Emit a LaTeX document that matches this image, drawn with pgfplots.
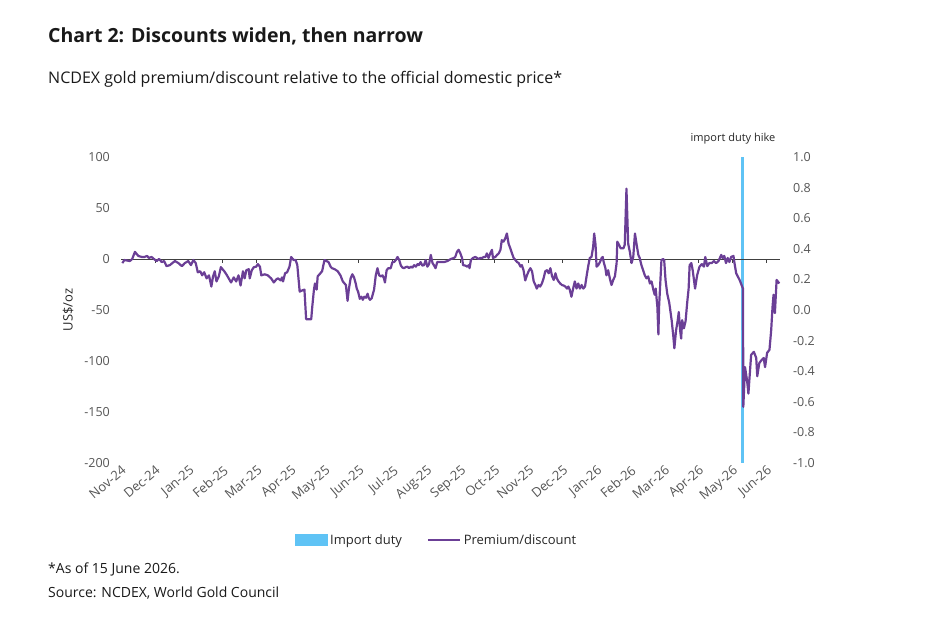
\documentclass[border=0pt]{standalone}
\usepackage{fontspec}
\setmainfont{Open Sans}
\usepackage{pgfplots}
\pgfplotsset{compat=1.18}
\definecolor{duty}{RGB}{95,195,245}
\definecolor{prem}{RGB}{107,63,150}
\definecolor{tickgray}{RGB}{85,85,85}
\definecolor{zeroline}{RGB}{64,64,64}

% NCDEX premium/discount, US$/oz; x in months since Nov-24
\pgfplotstableread{
x y
0.04 -4
0.10 -1
0.26 -2
0.33 0
0.41 7
0.51 3
0.61 2
0.69 2
0.77 3
0.82 1
0.90 2
0.97 0
1.05 -2
1.12 0
1.20 -3
1.27 -2
1.34 -7
1.44 -6
1.51 -4
1.59 -2
1.69 -4
1.79 -7
1.88 -4
1.98 -2
2.06 -6
2.13 -1
2.20 -4
2.26 -13
2.33 -12
2.39 -16
2.45 -13
2.52 -19
2.59 -16
2.66 -27
2.71 -17
2.76 -12
2.81 -22
2.88 -17
2.94 -8
3.04 -12
3.12 -16
3.24 -23
3.32 -18
3.39 -22
3.46 -16
3.52 -26
3.59 -12
3.64 -19
3.69 -11
3.76 -10
3.79 -19
3.85 -11
3.91 -8
3.98 -7.5
4.03 -5
4.09 -7.5
4.13 -16
4.23 -15
4.32 -16
4.42 -19
4.50 -23
4.57 -20
4.62 -19
4.70 -21
4.74 -18
4.77 -22
4.83 -14
4.89 -13
4.96 -7.5
5.01 2
5.08 -1
5.14 -1
5.19 -6
5.26 -32
5.32 -31
5.40 -30
5.45 -59
5.55 -59
5.60 -59
5.63 -47
5.68 -30
5.71 -24
5.76 -30
5.79 -17
5.87 -14
5.92 -12
5.99 -1
6.05 -2
6.11 -3
6.17 -7.5
6.21 -9
6.29 -10
6.38 -12
6.46 -16
6.53 -22
6.62 -25.5
6.67 -41
6.71 -29
6.76 -19
6.81 -15
6.86 -18
6.91 -24
6.94 -29
6.98 -32
7.03 -39
7.08 -37
7.12 -40
7.16 -37
7.21 -38
7.26 -34
7.29 -38
7.33 -40
7.38 -38.5
7.45 -30
7.50 -16
7.55 -9
7.60 -16
7.65 -17
7.70 -16
7.74 -19
7.77 -23
7.82 -11
7.87 -9
7.94 -9
7.99 -3
8.04 -3
8.09 -1
8.14 2
8.19 -1
8.24 -6.5
8.29 -8.5
8.33 -9
8.38 -8
8.43 -7.5
8.48 -9
8.53 -7.5
8.58 -8.5
8.63 -6
8.68 -7.5
8.73 -5
8.77 -6
8.82 -3
8.87 -6.5
8.92 -6
8.97 -1
9.02 -7.5
9.07 -5
9.12 4
9.17 -4
9.21 -6
9.26 -9
9.31 -3
9.41 -3
9.51 -3
9.61 -2
9.71 0
9.80 1
9.84 2
9.89 7
9.94 9
9.99 5.5
10.04 1
10.07 -6
10.14 -6.5
10.19 -7.5
10.24 -6
10.26 -9
10.30 -1
10.36 1
10.43 2
10.48 1
10.53 0
10.58 1
10.63 1
10.68 2
10.73 2
10.77 5.5
10.82 1
10.87 5.5
10.92 9
10.95 1
11.02 2
11.07 4
11.12 5.5
11.17 9
11.21 18.5
11.26 17
11.31 20
11.36 25
11.41 15
11.46 10.5
11.51 5.5
11.56 1
11.61 -1
11.66 -3
11.71 -4
11.76 -7.5
11.80 -6
11.85 -11
11.90 -21
11.95 -16
12.00 -12
12.05 -9
12.10 -12
12.15 -22
12.20 -25.5
12.24 -29
12.29 -25.5
12.34 -27
12.39 -24
12.44 -19
12.49 -12
12.54 -11
12.59 -14
12.64 -9
12.69 -17
12.74 -20.5
12.79 -14
12.83 -19
12.88 -22
12.93 -24
12.98 -25.5
13.03 -26
13.08 -27
13.13 -29
13.17 -27
13.21 -30
13.26 -37
13.31 -29
13.36 -22
13.41 -29
13.46 -24
13.51 -29
13.56 -25.5
13.61 -29
13.66 -27
13.71 -16
13.76 -6
13.80 1
13.85 2
13.90 12
13.93 25
13.97 14
14.00 -7.5
14.05 -6
14.10 -3
14.15 1
14.18 2
14.21 -3
14.26 -9
14.29 -16
14.34 -11
14.39 -19
14.44 -25.5
14.49 -20.5
14.54 -17
14.59 -4
14.61 17
14.66 14
14.71 10.5
14.79 10.5
14.83 14
14.88 69
14.93 15
14.98 7
15.03 -4
15.08 2
15.13 25
15.18 14
15.23 4
15.27 1
15.32 -6
15.37 -11
15.42 -16
15.47 -19
15.52 -17
15.57 -24
15.62 -22
15.67 -30
15.71 -35
15.74 -29
15.79 -47
15.82 -74
15.84 -47
15.88 -20.5
15.91 -1
15.96 0
15.99 -1
16.03 -20.5
16.08 -34
16.14 -43
16.21 -60
16.26 -76
16.29 -87.5
16.34 -70
16.39 -60
16.42 -52
16.46 -70
16.49 -78
16.52 -60
16.57 -68
16.62 -61
16.67 -42
16.71 -29
16.74 -6
16.79 -4
16.83 -11
16.90 -29
16.96 -16
17.03 -7.5
17.10 -5
17.16 -7.5
17.20 2
17.26 -7
17.32 -4
17.39 -4
17.45 -2
17.52 -4
17.59 -2
17.67 4
17.71 1
17.76 3
17.81 -4
17.86 1
17.91 -3
17.96 2
18.03 3
18.06 -4
18.11 -14
18.21 -20.5
18.31 -29
18.32 -145
18.37 -106
18.43 -119
18.47 -132
18.55 -94
18.63 -91
18.70 -97
18.73 -115
18.79 -102
18.86 -99
18.92 -97
18.96 -106
19.02 -92
19.09 -89
19.14 -70
19.18 -47
19.21 -35
19.25 -53
19.30 -20.5
19.38 -24
}\premium

\begin{document}
\begin{tikzpicture}[x=1pt,y=1pt]
\path (0,0) rectangle (935,-617);

% titles
\node[anchor=base west, inner sep=0, font=\bfseries\fontsize{19.5}{23}\selectfont, text=black!90] at (48,-43) {Chart 2: Discounts widen, then narrow};
\node[anchor=base west, inner sep=0, font=\fontsize{16}{19}\selectfont, text=black!90] at (48,-84) {NCDEX gold premium/discount relative to the official domestic price*};

% secondary axis: import duty marker
\begin{axis}[
  at={(121pt,-463pt)}, anchor=south west,
  scale only axis, width=659pt, height=306pt,
  xmin=0, xmax=19.4, ymin=-1, ymax=1,
  axis line style={draw=none}, tick style={draw=none},
  xtick=\empty,
  yticklabel pos=right,
  ytick={-1,-0.8,...,1.01},
  /pgf/number format/.cd, fixed, fixed zerofill, precision=1, assume math mode=true,
  /pgfplots/.cd,
  yticklabel style={font=\fontsize{12.5}{14}\selectfont, text=tickgray, anchor=west, inner sep=0, xshift=13pt},
]
\addplot[ycomb, draw=duty, line width=3pt, no marks] coordinates {(18.31,1) (18.31,-1)};
\end{axis}

% primary axis: premium/discount
\begin{axis}[
  at={(121pt,-463pt)}, anchor=south west,
  scale only axis, width=659pt, height=306pt,
  xmin=0, xmax=19.4, ymin=-200, ymax=100,
  axis line style={draw=none}, tick style={draw=none},
  xtick={0,...,19},
  xticklabels={Nov-24,Dec-24,Jan-25,Feb-25,Mar-25,Apr-25,May-25,Jun-25,Jul-25,Aug-25,Sep-25,Oct-25,Nov-25,Dec-25,Jan-26,Feb-26,Mar-26,Apr-26,May-26,Jun-26},
  xticklabel style={font=\fontsize{13}{15}\selectfont, text=tickgray, rotate=40, anchor=north east, inner sep=1pt},
  ytick={-200,-150,...,100},
  /pgf/number format/assume math mode=true,
  yticklabel style={font=\fontsize{12.5}{14}\selectfont, text=tickgray, anchor=east, inner sep=0, xshift=-11pt},
  legend style={at={(0.4795,-0.2516)}, anchor=center, draw=none, fill=none,
    font=\fontsize{13}{15}\selectfont, text=black!85, legend columns=2,
    /tikz/every even column/.append style={column sep=22pt},
    nodes={inner xsep=3pt}},
  legend cell align=left,
]
\addlegendimage{legend image code/.code={\fill[duty] (0pt,-5.5pt) rectangle (32pt,5.5pt);}}
\addlegendentry{Import duty}
% zero line with month ticks
\addplot[draw=zeroline, line width=0.9pt, forget plot] coordinates {(0,0) (19.4,0)};
\addplot[ycomb, draw=zeroline, line width=0.9pt, no marks, forget plot] coordinates {
(1,-4) (2,-4) (3,-4) (4,-4) (5,-4) (6,-4) (7,-4) (8,-4) (9,-4) (10,-4)
(11,-4) (12,-4) (13,-4) (14,-4) (15,-4) (16,-4) (17,-4) (18,-4) (19,-4)};
\addplot[draw=prem, line width=2.2pt, no marks, line join=round,
  legend image code/.code={\draw[prem, line width=1.8pt] (0pt,0pt) -- (32pt,0pt);}]
  table[x=x, y=y] {\premium};
\addlegendentry{Premium/discount}
\end{axis}

% annotations and notes
\node[anchor=center, inner sep=0, font=\fontsize{11}{13}\selectfont, text=black!85] at (733,-139) {import duty hike};
\node[rotate=90, anchor=center, inner sep=0, font=\fontsize{13}{15}\selectfont, text=black!85] at (68,-310) {US\$/oz};
\node[anchor=base west, inner sep=0, font=\fontsize{14}{16}\selectfont, text=black!90] at (48,-573) {*As of 15 June 2026.};
\node[anchor=base west, inner sep=0, font=\fontsize{14}{16}\selectfont, text=black!90] at (48,-597) {Source: NCDEX, World Gold Council};
\end{tikzpicture}
\end{document}
